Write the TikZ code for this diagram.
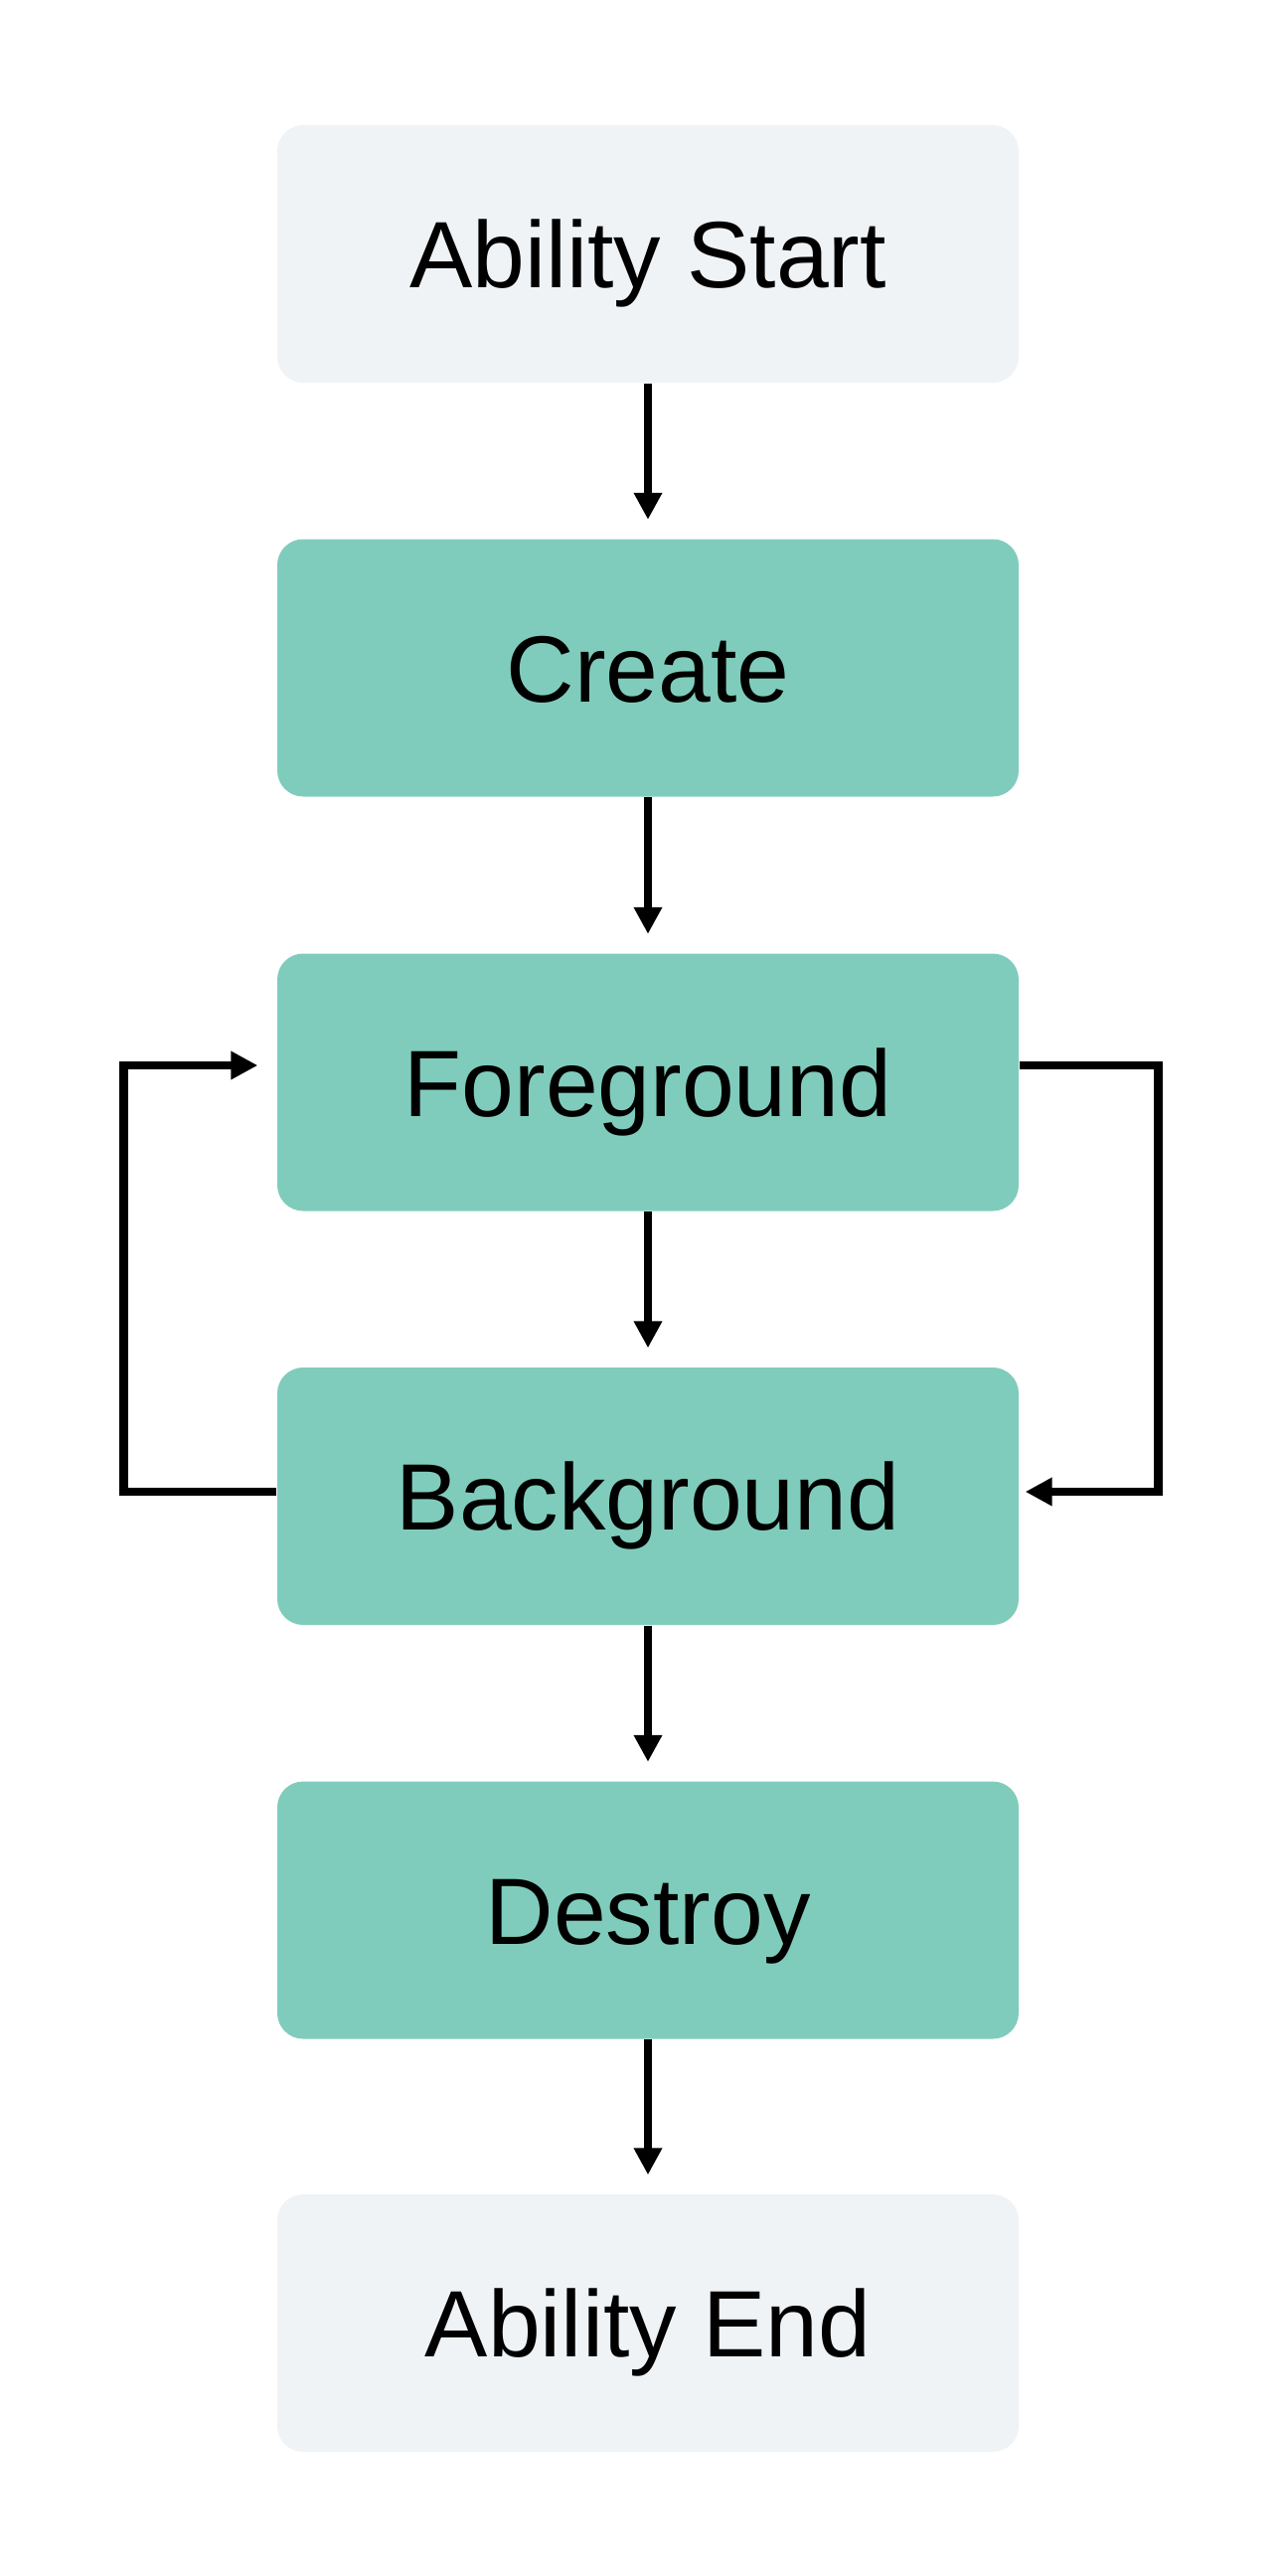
\documentclass[tikz,border=0pt]{standalone}
\usepackage{fontspec}
\setmainfont{Liberation Sans}
\usetikzlibrary{arrows.meta}
\definecolor{lightbox}{HTML}{EFF3F6}
\definecolor{greenbox}{HTML}{80CCBC}
\begin{document}
\begin{tikzpicture}[
  box/.style={rounded corners=0.26cm, minimum width=7.46cm, minimum height=2.59cm,
    inner sep=0pt, text height=0.68cm, text depth=0pt,
    font=\fontsize{27pt}{32pt}\selectfont},
  startend/.style={box, fill=lightbox},
  stage/.style={box, fill=greenbox},
  flow/.style={line width=0.087cm, -{Triangle[length=0.27cm,width=0.27cm]}, shorten >=0.19cm}
]
\useasboundingbox (0,0) rectangle (12.9,-25.92);
\node[startend] (start) at (6.52,-2.555) {Ability Start};
\node[stage] (create) at (6.52,-6.72) {Create};
\node[stage] (fg) at (6.52,-10.89) {Foreground};
\node[stage] (bg) at (6.52,-15.055) {Background};
\node[stage] (destroy) at (6.52,-19.22) {Destroy};
\node[startend] (end) at (6.52,-23.375) {Ability End};
\draw[flow] (start) -- (create);
\draw[flow] (create) -- (fg);
\draw[flow] (fg) -- (bg);
\draw[flow] (bg) -- (destroy);
\draw[flow] (destroy) -- (end);
\coordinate (lx) at (1.245,0);
\coordinate (rx) at (11.655,0);
\draw[flow] ([yshift=0.045cm]bg.west) -- ([yshift=0.045cm]bg.west -| lx) |- ([yshift=0.17cm]fg.west);
\draw[flow, shorten >=0.06cm] ([yshift=0.17cm]fg.east) -- ([yshift=0.17cm]fg.east -| rx) |- ([yshift=0.045cm]bg.east);
\end{tikzpicture}
\end{document}
